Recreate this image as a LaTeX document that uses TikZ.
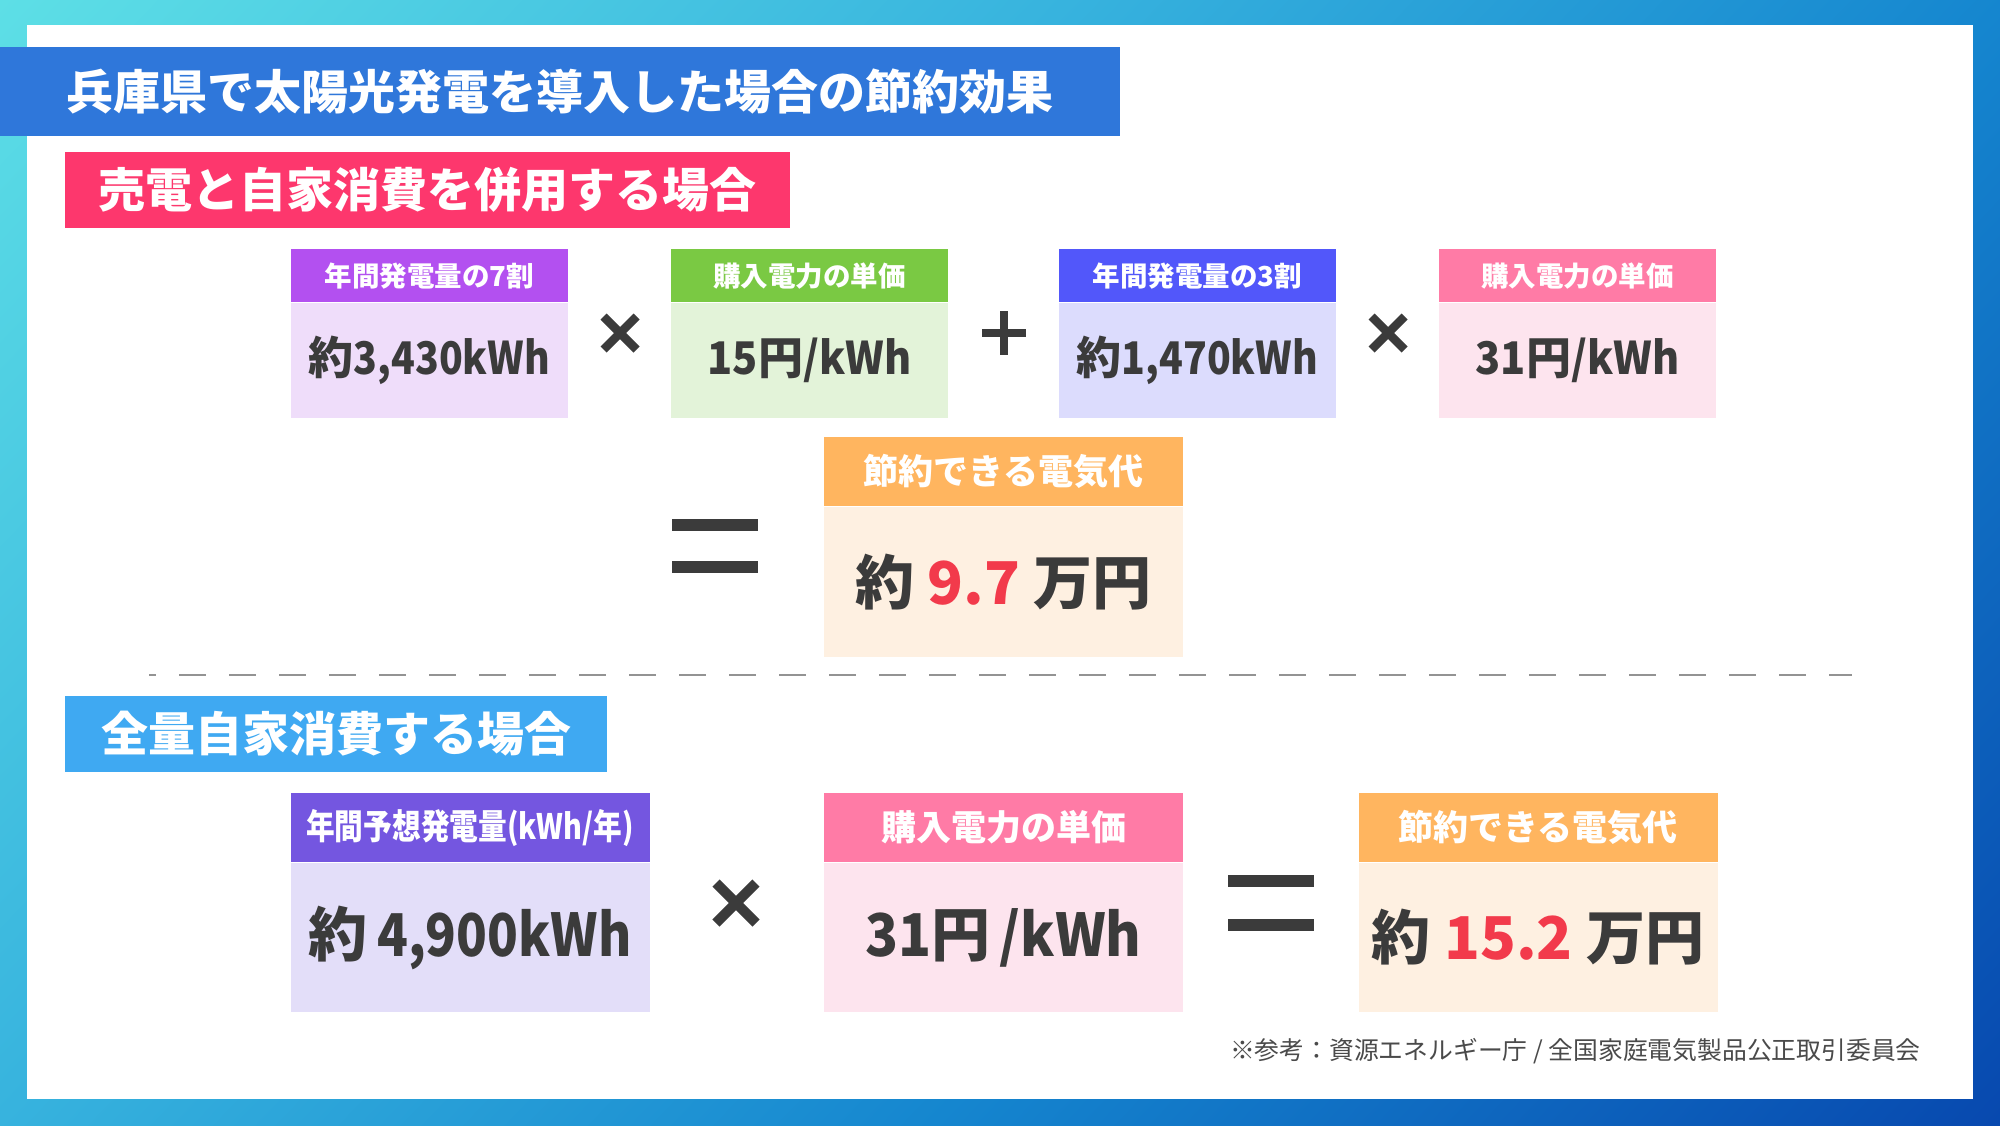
\documentclass[tikz,border=0pt]{standalone}
\usepackage{fontspec}
\setmainfont{Noto Sans CJK JP}
\usepackage{graphicx}
\usetikzlibrary{calc,positioning}

\definecolor{bgtl}{HTML}{5EE0E6}
\definecolor{bgbl}{HTML}{37B3DE}
\definecolor{bgtr}{HTML}{1586CF}
\definecolor{bgbr}{HTML}{0747AE}
\definecolor{titleblue}{HTML}{2F77DA}
\definecolor{labelpink}{HTML}{FD376D}
\definecolor{labelblue}{HTML}{3FA9F2}
\definecolor{ink}{HTML}{3B3B3B}
\definecolor{numred}{HTML}{F23A4B}
\definecolor{notegray}{HTML}{4A4A4A}
\definecolor{hdpurple}{HTML}{B350F0}
\definecolor{bdpurple}{HTML}{EFDDFA}
\definecolor{hdgreen}{HTML}{7AC943}
\definecolor{bdgreen}{HTML}{E3F3D9}
\definecolor{hdviolet}{HTML}{5257FA}
\definecolor{bdviolet}{HTML}{DCDCFD}
\definecolor{hdpink}{HTML}{FF7BA6}
\definecolor{bdpink}{HTML}{FDE4EE}
\definecolor{hdorange}{HTML}{FFB55F}
\definecolor{bdorange}{HTML}{FEF0E1}
\definecolor{hdlilac}{HTML}{7456E0}
\definecolor{bdlilac}{HTML}{E3DEF9}

\pgfdeclarehorizontalshading{bgshade}{100bp}{color(0bp)=(bgtl); color(25bp)=(bgtl); color(42.5bp)=(bgbl); color(57.5bp)=(bgtr); color(75bp)=(bgbr); color(100bp)=(bgbr)}

\def\crossmark[#1](#2)(#3){\draw[#1] ($(#2)+(-#3,-#3)$) -- ($(#2)+(#3,#3)$); \draw[#1] ($(#2)+(-#3,#3)$) -- ($(#2)+(#3,-#3)$);}
\def\plusmark[#1](#2)(#3){\draw[#1] ($(#2)+(-#3,0)$) -- ($(#2)+(#3,0)$); \draw[#1] ($(#2)+(0,-#3)$) -- ($(#2)+(0,#3)$);}
\def\equalmark[#1](#2)(#3:#4){\draw[#1] ($(#2)+(-#3,-#4)$) -- ($(#2)+(#3,-#4)$); \draw[#1] ($(#2)+(-#3,#4)$) -- ($(#2)+(#3,#4)$);}
\def\slim#1#2{\scalebox{#1}[1]{#2}}

\tikzset{
  smallhead/.style={inner sep=0pt, anchor=north, text=white, minimum width=138.5pt, minimum height=26.5pt, font=\bfseries\fontsize{13.75}{15}\selectfont},
  smallbody/.style={inner sep=0pt, below=0pt of #1, text=ink, minimum width=138.5pt, minimum height=57.5pt, font=\bfseries\fontsize{22.5}{24}\selectfont},
  bighead/.style={inner sep=0pt, anchor=north, text=white, minimum width=179.5pt, minimum height=34.25pt, font=\bfseries\fontsize{17.5}{19}\selectfont},
  bigbody/.style={inner sep=0pt, below=0pt of #1, text=ink, minimum width=179.5pt, minimum height=74.75pt, font=\bfseries\fontsize{29.5}{31}\selectfont},
  banner/.style={inner sep=0pt, text=white, font=\bfseries\fontsize{23.5}{25}\selectfont}
}

\begin{document}
\begin{tikzpicture}[x=0.5pt,y=-0.5pt]
			%%%%% START %%%%%
			\def\rowone{249}
			\def\rowtwo{437}
			\def\rowthree{793}
			\def\symone{333}
			\def\symtwo{546}
			\def\symthree{903}

			\useasboundingbox (0,0) rectangle (2000,1125);
			\shade[shading=bgshade, transform canvas={rotate around={-43.7:(1000,562.5)}}] (-130,-560) rectangle (2130,1685);
			\fill[white] (27,25) rectangle (1973,1099);

			\node[banner, fill=titleblue, minimum width=560pt, minimum height=44.5pt] (title) at (560,91.5) {兵庫県で太陽光発電を導入した場合の節約効果};

			% combined case
			\node[banner, fill=labelpink, minimum width=362.5pt, minimum height=38pt] (casea) at (427.5,190) {売電と自家消費を併用する場合};

			\node[smallhead, fill=hdpurple] (selfh) at (429.5,\rowone) {年間発電量の7割};
			\node[smallbody=selfh, fill=bdpurple] (selfb) {約\slim{0.87}{3,430kWh}};
			\node[smallhead, fill=hdgreen] (sellh) at (809.5,\rowone) {購入電力の単価};
			\node[smallbody=sellh, fill=bdgreen] (sellb) {\slim{0.92}{15}円\slim{0.92}{/kWh}};
			\node[smallhead, fill=hdviolet] (resth) at (1197.5,\rowone) {年間発電量の3割};
			\node[smallbody=resth, fill=bdviolet] (restb) {約\slim{0.87}{1,470kWh}};
			\node[smallhead, fill=hdpink] (priceh) at (1577.5,\rowone) {購入電力の単価};
			\node[smallbody=priceh, fill=bdpink] (priceb) {\slim{0.92}{31}円\slim{0.92}{/kWh}};

			\crossmark[ink, line width=4.25pt](620,\symone)(16.5);
			\plusmark[ink, line width=3.75pt](1004,\symone)(22);
			\crossmark[ink, line width=4.25pt](1388,\symone)(16.5);

			\equalmark[ink, line width=6pt](715,\symtwo)(43:21);
			\node[bighead, fill=hdorange] (saveah) at (1003.5,\rowtwo) {節約できる電気代};
			\node[bigbody=saveah, fill=bdorange, minimum height=75pt] (saveab) {約 \textcolor{numred}{9.7} 万円};

			\draw[gray!85, line width=1.1pt, dash pattern=on 13.5pt off 11.5pt, dash phase=10pt] (149,675) -- (1852,675);

			% full self consumption
			\node[banner, fill=labelblue, minimum width=271pt, minimum height=38pt] (caseb) at (336,734) {全量自家消費する場合};

			\node[bighead, fill=hdlilac] (yearh) at (470,\rowthree) {\slim{0.82}{年間予想発電量(kWh/年)}};
			\node[bigbody=yearh, fill=bdlilac] (yearb) {約\,\slim{0.86}{4,900kWh}};
			\crossmark[ink, line width=5pt](736,\symthree)(20);
			\node[bighead, fill=hdpink] (unith) at (1003.5,\rowthree) {購入電力の単価};
			\node[bigbody=unith, fill=bdpink] (unitb) {\slim{0.92}{31}円\slim{0.92}{\,/kWh}};
			\equalmark[ink, line width=6pt](1271,\symthree)(43:22);
			\node[bighead, fill=hdorange] (savebh) at (1538,\rowthree) {節約できる電気代};
			\node[bigbody=savebh, fill=bdorange] (savebb) {約 \textcolor{numred}{15.2} 万円};

			\node[anchor=east, inner sep=0pt, text=notegray, font=\fontsize{12.4}{14}\selectfont] (note) at (1921,1051) {※参考：資源エネルギー庁 / 全国家庭電気製品公正取引委員会};
			%%%%% END %%%%%
\end{tikzpicture}
\end{document}
